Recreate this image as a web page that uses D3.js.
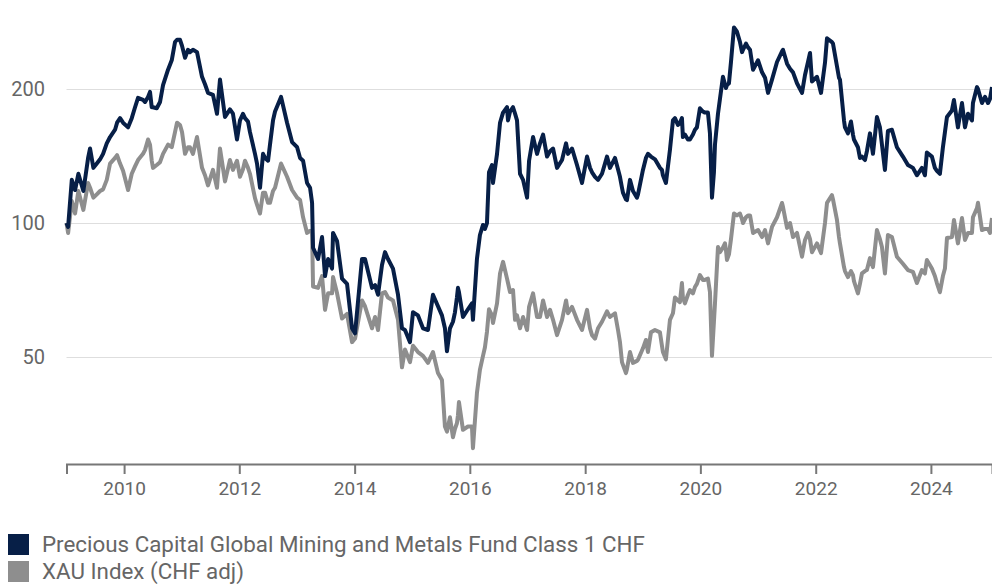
<!DOCTYPE html>
<html>
<head>
<meta charset="utf-8">
<script src="https://cdn.jsdelivr.net/npm/d3@7"></script>
<style>
  html, body { margin: 0; padding: 0; background: #fff; }
  svg { display: block; font-family: Roboto, "Noto Sans", sans-serif; }
</style>
</head>
<body>
<svg id="chart" width="992" height="584"></svg>
<script>
// ---- data (decimal years, indexed performance) ----
const dates = [
2009.000,2009.028,2009.092,2009.149,2009.206,2009.293,2009.375,2009.409,2009.467,2009.526,2009.583,2009.635,2009.699,2009.756,2009.843,2009.878,2009.930,2009.982,
2010.069,2010.133,2010.190,2010.242,2010.329,2010.364,2010.416,2010.450,2010.480,2010.502,2010.567,2010.624,2010.676,2010.763,2010.827,2010.884,2010.919,2010.971,
2011.006,2011.058,2011.110,2011.144,2011.196,2011.266,2011.353,2011.405,2011.457,2011.543,2011.613,2011.665,2011.752,2011.838,2011.890,2011.960,
2012.012,2012.064,2012.099,2012.151,2012.185,2012.272,2012.307,2012.359,2012.411,2012.446,2012.498,2012.532,2012.584,2012.619,2012.723,2012.827,2012.914,
2013.001,2013.053,2013.105,2013.174,2013.226,2013.261,2013.278,2013.365,2013.434,2013.486,2013.539,2013.608,2013.625,2013.695,2013.781,2013.868,2013.955,
2014.007,2014.128,2014.180,2014.302,2014.354,2014.406,2014.475,2014.527,2014.579,2014.666,2014.753,2014.822,2014.874,2014.961,
2015.013,2015.100,2015.187,2015.273,2015.360,2015.447,2015.516,2015.568,2015.603,2015.655,2015.707,2015.742,2015.776,2015.794,2015.811,2015.881,2015.967,
2016.037,2016.054,2016.123,2016.175,2016.228,2016.262,2016.297,2016.332,2016.384,2016.401,2016.471,2016.523,2016.575,2016.644,2016.661,2016.696,2016.748,2016.783,2016.817,2016.869,2016.922,2016.991,
2017.026,2017.095,2017.164,2017.216,2017.269,2017.338,2017.390,2017.442,2017.511,2017.598,2017.668,2017.702,2017.772,2017.858,2017.945,
2018.032,2018.084,2018.119,2018.171,2018.223,2018.292,2018.379,2018.431,2018.518,2018.570,2018.604,2018.639,2018.656,2018.708,2018.726,2018.778,2018.830,2018.899,2018.917,
2019.003,2019.055,2019.090,2019.142,2019.212,2019.298,2019.333,2019.350,2019.402,2019.472,2019.524,2019.559,2019.611,2019.645,2019.680,2019.697,2019.732,2019.784,2019.819,2019.871,2019.906,2019.940,2019.992,
2020.044,2020.079,2020.131,2020.166,2020.201,2020.235,2020.253,2020.305,2020.339,2020.391,2020.426,2020.443,2020.461,2020.495,2020.530,2020.582,2020.634,2020.686,2020.721,2020.738,2020.790,2020.825,2020.860,2020.912,2020.999,
2021.068,2021.120,2021.172,2021.241,2021.328,2021.415,2021.432,2021.502,2021.554,2021.606,2021.675,2021.762,2021.814,2021.866,2021.901,2021.935,
2022.022,2022.092,2022.161,2022.196,2022.282,2022.300,2022.369,2022.404,2022.421,2022.491,2022.508,2022.560,2022.612,2022.647,2022.664,2022.733,2022.768,2022.803,2022.855,2022.889,2022.942,2022.994,
2023.063,2023.115,2023.150,2023.202,2023.254,2023.323,2023.410,2023.514,2023.601,2023.688,2023.757,2023.844,2023.896,2023.930,
2024.017,2024.069,2024.104,2024.156,2024.208,2024.243,2024.278,2024.364,2024.399,2024.468,2024.538,2024.590,2024.642,2024.711,2024.728,2024.798,2024.815,2024.884,2024.937,2024.989,
2025.023,2025.058
];

const fundValues = [
100,98,125,118.6,129,118,140,147,133,136,139,143,151,156,162,168,172,168,
164,172,182,191,189,187,192,197,182,182,181,187,204,221,232,255,258,258,
250,235,245,242,245,242,213,205,196,194,176,210,173,180,176,154,
170,176,172,169,160,143,136,120,143,140,138,150,170,178,192,168,152,
148,140,138,123,120,111,88,83,93,76,83,79,95,91,75,73,58,
56.5,83,83,71.5,72.5,69,80.5,86,83,79,69,58,57.5,54,
63,62,58,57.5,69,65,62,58,51.5,58,60,63,68,71.5,70,61.5,64,
66,60.6,83,94,99,97,100,130,135,123,143,168,177,182,170,178,182,176,170,129,125,114,
138,156,143,151,158,141,145,147,133,138.5,151,143,147,135,123,
141,133,130,127,125,129,141,133,140,132,127,120,117,113,112.6,125,118,114,116,
131.6,140,143,141,139,133,131.6,128,123,146,170,172,166,168,172,156,158,154,154,158,162,164,181,
178,177,177,159,114,130,150,176,190,213,205,201,204,206,230,275,269,255,242,245,253,248,245,221,232,
218,212,196,210,230,243,245,228,222,218,206,196,215,230,241,208,
213,196,229,260,255,253,225,212,210,170,164,159,169,158,154,148,140,141,138.5,145,159,143,
173,164,150,131.6,161,162,148,141,135,133,128,133,128,144,
141,133,131,129,148,160,173,179,189,164,186,164,176,170,186,202,200,186,192,186,
190,202
];

const goldValues = [
100,95,112,105,118,107,123,120,114,116,118,119,125,136,140,142,136,131,
118.6,129,134,138.5,143,146,154,150,138,133,135,137,143,150,148,160,168,166,
160,143,148,148,143,156,133,128,121.5,131.6,120,147,124,138.5,131.6,138,
127,132,138,133,129,113.7,110,105,117,117,111,111,118,120,136,127,118.6,
114,112.6,103,95,96,95,72,71.5,76,63.8,69.5,69.5,75.6,69.5,61,62.5,54,
55,67,65,58,61.5,57.5,69.5,70,68,67,60.6,47.4,52,48.7,
53,51.3,50.3,48.5,51.3,46,44.4,34.9,34,36.6,33,34.5,35.5,37,39.6,34.3,34.9,
34.9,31.2,41.5,46.8,50.3,52.6,57,64,62,59.6,66,77,81.8,75,73.3,70,70.7,60.6,62,58,61.5,57.5,
64.8,69.5,61.5,61.5,67,61.5,63.8,60.6,56,60.6,67,62.7,64.8,60.6,57.5,
63.8,58,56,55,58,60,63.3,61.5,62.7,57.5,54,48.7,48,46,47,51.3,48.5,49,49.3,
52.3,54.6,51.3,56.8,57.5,56.8,53,51.3,49.4,60.6,62.7,68,67,66.4,73.3,68,66,69,70.7,69.5,71.8,73,76.4,
74.5,74.5,75,70,50.3,60,66,88.3,86,88,90,87,82.6,85,92,105,104,105,102,100,103,104,104,95,96.4,
93,96.4,90,98,103,110.9,108.6,97.5,100,93,95,84,91.6,95,92,86,
90,85.6,100,111,115.5,113,101.6,93,90,79.6,78,75.6,78,76.4,74,69.5,73,77.1,78,78.4,83.4,79.6,
96.4,92,88.3,77,94,93,84,81,78.4,77.7,73.3,78.4,77,82.6,
79,76,73.3,69.9,76,79,92.5,93,101.6,90,102.6,91.6,95,95,103,108,111,96.4,97,97,
95,102.6
];

const yTickValues = [50, 100, 200];
const seriesNames = ["Precious Capital Global Mining and Metals Fund Class 1 CHF", "XAU Index (CHF adj)"];
const seriesColors = ["#071f47", "#8e8e8e"];

// ---- helpers ----
function decToDate(t) {
  const y = Math.floor(t);
  const a = new Date(y, 0, 1).getTime();
  const b = new Date(y + 1, 0, 1).getTime();
  return new Date(a + (t - y) * (b - a));
}
const parsed = dates.map(decToDate);
const fund = parsed.map((d, i) => ({ date: d, value: fundValues[i] }));
const gold = parsed.map((d, i) => ({ date: d, value: goldValues[i] }));

// ---- layout ----
const left = 66.5, right = 992, axisY = 464;
const svg = d3.select("#chart");

const x = d3.scaleTime()
  .domain([parsed[0], parsed[parsed.length - 1]])
  .range([left, right]);

const y = d3.scaleLog()
  .domain([100, 200])
  .range([223, 89]);

// gridlines
svg.append("g")
  .selectAll("line")
  .data(yTickValues)
  .join("line")
  .attr("x1", left).attr("x2", right)
  .attr("y1", d => Math.round(y(d)) + 0.5).attr("y2", d => Math.round(y(d)) + 0.5)
  .attr("stroke", "#dedede").attr("stroke-width", 1);

// y labels
svg.append("g")
  .selectAll("text")
  .data(yTickValues)
  .join("text")
  .attr("x", 45).attr("y", d => y(d))
  .attr("dy", "0.35em")
  .attr("text-anchor", "end")
  .attr("fill", "#666")
  .style("font-size", "20px")
  .text(d => d);

// x axis
const xAxis = d3.axisBottom(x)
  .ticks(d3.timeYear.every(2))
  .tickFormat(d3.timeFormat("%Y"))
  .tickSizeInner(10)
  .tickSizeOuter(10)
  .tickPadding(8);

const gx = svg.append("g")
  .attr("transform", `translate(0,${axisY})`)
  .call(xAxis);
gx.select(".domain").attr("stroke", "#777").attr("stroke-width", 2);
gx.selectAll(".tick line").attr("stroke", "#777").attr("stroke-width", 2);
gx.selectAll(".tick text")
  .attr("fill", "#666")
  .style("font-size", "19px")
  .style("font-family", "Roboto, 'Noto Sans', sans-serif");

// lines
const line = d3.line()
  .x(d => x(d.date))
  .y(d => y(d.value));

svg.append("path")
  .datum(gold)
  .attr("d", line)
  .attr("fill", "none")
  .attr("stroke", seriesColors[1])
  .attr("stroke-width", 4)
  .attr("stroke-linejoin", "round");

svg.append("path")
  .datum(fund)
  .attr("d", line)
  .attr("fill", "none")
  .attr("stroke", seriesColors[0])
  .attr("stroke-width", 4)
  .attr("stroke-linejoin", "round");

// legend
const legend = svg.append("g");
const rows = legend.selectAll("g")
  .data(seriesNames)
  .join("g")
  .attr("transform", (d, i) => `translate(8,${534 + i * 27})`);
rows.append("rect")
  .attr("width", 21).attr("height", 21)
  .attr("fill", (d, i) => seriesColors[i]);
const ltxt = rows.append("text")
  .attr("x", 34).attr("y", 10)
  .attr("dy", "0.35em")
  .attr("fill", "#666")
  .style("font-size", "19px")
  .text(d => d);
// fit font so the first legend label spans like the reference
const w0 = ltxt.nodes()[0].getComputedTextLength();
const fs = 19 * 603 / w0;
ltxt.style("font-size", fs.toFixed(2) + "px");
</script>
</body>
</html>
